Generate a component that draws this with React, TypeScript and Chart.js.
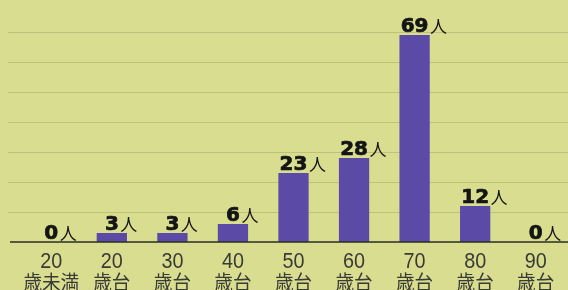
import React, { useEffect, useRef } from "react";
import { Chart, registerables } from "chart.js";

Chart.register(...registerables);

const ageTop = ["20", "20", "30", "40", "50", "60", "70", "80", "90"];
const ageBottom = ["歳未満", "歳台", "歳台", "歳台", "歳台", "歳台", "歳台", "歳台", "歳台"];
const people = [0, 3, 3, 6, 23, 28, 69, 12, 0];
const unit = "人";
const gridValues = [10, 20, 30, 40, 50, 60, 70];

const BG = "#d9dd8f";
const BAR = "#5b4ba7";

const decorPlugin = {
  id: "decor",
  beforeDraw(chart: any) {
    const { ctx, width, height } = chart;
    const y = chart.scales.y;
    ctx.save();
    ctx.fillStyle = BG;
    ctx.fillRect(0, 0, width, height);
    ctx.strokeStyle = "rgba(160,160,100,0.45)";
    ctx.lineWidth = 1;
    gridValues.forEach((v) => {
      const py = Math.round(y.getPixelForValue(v)) + 0.5;
      ctx.beginPath();
      ctx.moveTo(8, py);
      ctx.lineTo(width, py);
      ctx.stroke();
    });
    ctx.restore();
  },
  afterDatasetsDraw(chart: any) {
    const { ctx, width } = chart;
    const y = chart.scales.y;
    const x = chart.scales.x;
    const meta = chart.getDatasetMeta(0);
    ctx.save();
    const y0 = y.getPixelForValue(0);
    ctx.strokeStyle = "#2b2b22";
    ctx.lineWidth = 1.6;
    ctx.beginPath();
    ctx.moveTo(10, y0);
    ctx.lineTo(width, y0);
    ctx.stroke();

    meta.data.forEach((bar: any, i: number) => {
      const num = String(people[i]);
      const by = bar.y - 3;
      ctx.fillStyle = "#141414";
      ctx.strokeStyle = "#141414";
      ctx.lineWidth = 0.7;
      ctx.lineJoin = "round";
      ctx.font = "bold 20px 'DejaVu Sans'";
      ctx.textAlign = "center";
      ctx.textBaseline = "alphabetic";
      const w = ctx.measureText(num).width;
      ctx.fillText(num, bar.x, by);
      ctx.strokeText(num, bar.x, by);
      ctx.font = "17px 'Noto Sans CJK JP'";
      ctx.textAlign = "left";
      ctx.fillText(unit, bar.x + w / 2 + 1.5, by + 1);
    });

    ctx.fillStyle = "#3a3a36";
    ctx.textAlign = "center";
    ageTop.forEach((t, i) => {
      const px = x.getPixelForValue(i);
      ctx.save();
      ctx.translate(px, 268);
      ctx.scale(0.9, 1);
      ctx.font = "22px 'Liberation Sans'";
      ctx.fillText(t, 0, 0);
      ctx.restore();
      ctx.save();
      ctx.translate(px, 290);
      ctx.scale(0.93, 1);
      ctx.font = "20px 'Noto Sans CJK JP'";
      ctx.fillText(ageBottom[i], 0, 0);
      ctx.restore();
    });
    ctx.restore();
  },
};

export default function App() {
  const ref = useRef<HTMLCanvasElement>(null);
  useEffect(() => {
    if (!ref.current) return;
    const chart = new Chart(ref.current, {
      type: "bar",
      data: {
        labels: ageTop.map((t, i) => t + ageBottom[i]),
        datasets: [
          {
            data: people,
            backgroundColor: BAR,
            borderWidth: 0,
            barPercentage: 0.5,
            categoryPercentage: 1,
          },
        ],
      },
      options: {
        responsive: false,
        devicePixelRatio: 1,
        animation: false,
        layout: { padding: { left: 21, right: 2, top: 0, bottom: 48 } },
        plugins: { legend: { display: false }, tooltip: { enabled: false } },
        scales: {
          x: { display: false },
          y: { display: false, min: 0, max: 242 / 3 },
        },
      },
      plugins: [decorPlugin],
    });
    return () => chart.destroy();
  }, []);
  return (
    <div style={{ position: "fixed", left: 0, top: 0, width: 568, height: 290 }}>
      <canvas ref={ref} width={568} height={290} />
    </div>
  );
}
